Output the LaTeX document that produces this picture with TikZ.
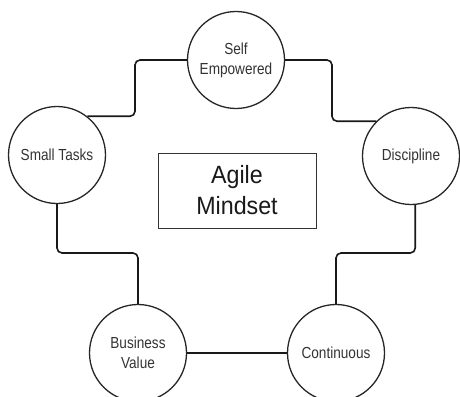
\documentclass[tikz,border=0pt]{standalone}
\usepackage{fontspec}
\setmainfont{Liberation Sans}
\usepackage{graphicx}
\tikzset{
  topic/.style={circle, draw=black!85, line width=1.3pt, minimum size=97pt, inner sep=0pt,
    text=black!80, font=\fontsize{16}{20}\selectfont, align=center},
  centerbox/.style={rectangle, draw=black!80, line width=1pt, minimum width=158pt, minimum height=75pt,
    inner sep=0pt, text=black!90, font=\fontsize{25}{31}\selectfont, align=center},
  conn/.style={draw=black!90, line width=1.6pt, rounded corners=5pt}
}
\newcommand{\nar}[1]{\scalebox{0.85}[1]{#1}}
\begin{document}
\begin{tikzpicture}[x=1pt,y=-1pt]
\path[use as bounding box] (0,0) rectangle (460,396);
\node[topic] (se) at (236,60) {\nar{Self}\\\nar{Empowered}};
\node[topic] (st) at (57,155) {\nar{Small Tasks}};
\node[topic] (di) at (411,156) {\nar{Discipline}};
\node[topic] (bv) at (138,353) {\nar{Business}\\\nar{Value}};
\node[topic] (co) at (336,353) {\nar{Continuous}};
\node[centerbox] (am) at (237,190.5) {\scalebox{0.93}[1]{Agile}\\\scalebox{0.93}[1]{Mindset}};
\coordinate (k1) at (135,90);
\coordinate (k2) at (332,90);
\coordinate (k3) at (375,253);
\coordinate (k4) at (100,253);
\draw[conn] (st.52) -| (k1) |- (se.west);
\draw[conn] (se.east) -| (k2) |- (di.135);
\draw[conn] (di.-85) |- (k3) -| (co.north);
\draw[conn] (co.west) -- (bv.east);
\draw[conn] (bv.north) |- (k4) -| (st.south);
\end{tikzpicture}
\end{document}
